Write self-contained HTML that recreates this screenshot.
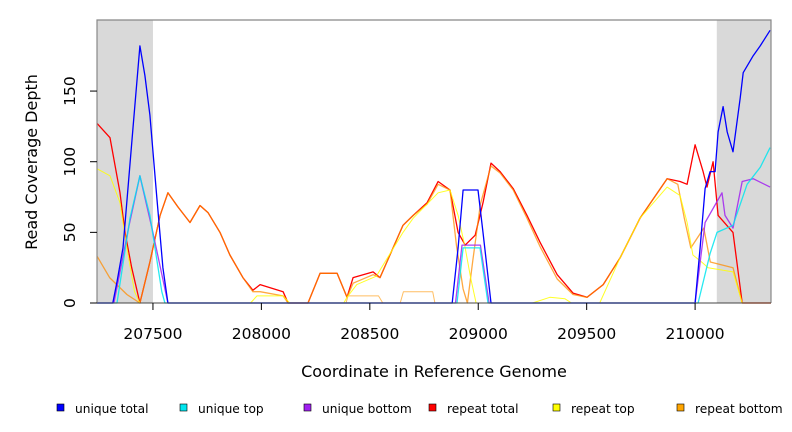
<!DOCTYPE html>
<html><head><meta charset="utf-8"><style>
body{margin:0;background:#fff;}
svg{display:block;font-family:"DejaVu Sans","Liberation Sans",sans-serif;}
</style></head><body>
<svg id="chart" width="792" height="432" viewBox="0 0 792 432" xmlns="http://www.w3.org/2000/svg"></svg>
<script>
const xTicks=[207500,208000,208500,209000,209500,210000];
const yTicks=[0,50,100,150];
const shadedRegions=[[207242,207500],[210100,210350]];
const seriesNames=["unique total","unique top","unique bottom","repeat total","repeat top","repeat bottom"];
const seriesColors=["#0000ff","#00e5ee","#a020f0","#ff0000","#ffff00","#ffa500"];
const uniqueTotal=[[207242,0],[207315,0],[207334,15],[207362,39],[207408,124],[207440,182],[207463,161],[207486,133],[207518,74],[207546,25],[207569,0],[208880,0],[208907,39],[208930,80],[208999,80],[209022,50],[209059,0],[210000,0],[210023,39],[210046,81],[210069,93],[210092,93],[210106,121],[210129,139],[210148,121],[210175,107],[210208,145],[210222,163],[210268,175],[210300,182],[210346,193]];
const uniqueTop=[[207242,0],[207334,0],[207394,60],[207440,90],[207486,62],[207541,8],[207555,0],[208902,0],[208930,39],[209008,39],[209045,0],[210014,0],[210069,35],[210101,50],[210175,55],[210240,84],[210300,96],[210346,110]];
const uniqueBottom=[[207242,0],[207320,0],[207390,55],[207440,90],[207500,50],[207569,0],[208895,0],[208925,41],[209010,41],[209050,0],[210000,0],[210046,57],[210124,78],[210138,62],[210175,53],[210217,86],[210268,88],[210346,82]];
const repeatTotal=[[207243,127],[207302,117],[207348,78],[207371,50],[207402,25],[207440,0],[207486,29],[207533,62],[207569,78],[207615,68],[207671,57],[207717,69],[207754,64],[207809,50],[207855,34],[207915,18],[207961,9],[207994,13],[208100,8],[208123,0],[208215,0],[208271,21],[208349,21],[208395,4],[208423,18],[208515,22],[208547,18],[208653,55],[208700,62],[208764,71],[208815,86],[208870,80],[208907,50],[208940,41],[208986,48],[209022,71],[209059,99],[209101,93],[209161,81],[209225,62],[209285,43],[209364,20],[209437,7],[209502,4],[209576,13],[209654,32],[209746,60],[209871,88],[209931,86],[209963,84],[210000,112],[210037,93],[210055,82],[210083,100],[210106,62],[210175,50],[210217,0],[210350,0]];
const repeatTop=[[207243,95],[207302,90],[207348,71],[207380,39],[207415,8],[207440,0],[207950,0],[207980,5],[208100,5],[208130,0],[208380,0],[208395,4],[208440,13],[208530,19],[208653,50],[208700,60],[208815,78],[208870,80],[208907,62],[208940,39],[208965,18],[208990,0],[209250,0],[209330,4],[209400,3],[209430,0],[209560,0],[209654,32],[209746,60],[209871,82],[209931,76],[209963,57],[209990,34],[210030,29],[210060,25],[210175,22],[210217,0],[210350,0]];
const repeatBottom=[[207243,33],[207300,18],[207380,6],[207440,0],[207486,29],[207533,62],[207569,78],[207615,68],[207671,57],[207717,69],[207754,64],[207809,50],[207855,34],[207915,18],[207961,8],[207994,8],[208100,5],[208123,0],[208215,0],[208271,21],[208349,21],[208395,4],[208423,14],[208515,20],[208547,18],[208653,55],[208700,62],[208764,70],[208815,84],[208870,80],[208900,40],[208930,10],[208950,0],[208975,30],[209010,70],[209059,97],[209101,92],[209161,80],[209225,60],[209285,40],[209364,17],[209437,6],[209502,4],[209576,13],[209654,32],[209746,60],[209871,88],[209920,84],[209950,60],[209980,39],[210040,53],[210070,29],[210175,25],[210217,0],[210350,0]];
const repeatBottomLow=[[208390,0],[208400,5],[208540,5],[208560,0],[208640,0],[208655,8],[208790,8],[208800,0]];
const allSeries=[repeatTotal,repeatBottom,repeatBottomLow,repeatTop,uniqueBottom,uniqueTop,uniqueTotal];
const drawColors=["#ff0000","#ff8c00","#ffb347","#ffff00","#a020f0","#00e5ee","#0000ff"];
const drawOpacity=[1,0.75,0.85,0.85,0.85,0.85,1];
const drawNames=["repeat-total-line","repeat-bottom-line","repeat-bottom-low-line","repeat-top-line","unique-bottom-line","unique-top-line","unique-total-line"];

const L=97,R=771,T=20,B=303;
const X0=207242,X1=210350,Y0=0,Y1=200.3;
function sx(v){return L+(v-X0)/(X1-X0)*(R-L);}
function sy(v){return B-(v-Y0)/(Y1-Y0)*(B-T);}
const svg=document.getElementById('chart');
const NS="http://www.w3.org/2000/svg";
function mk(tag,attrs){const e=document.createElementNS(NS,tag);for(const k in attrs)e.setAttribute(k,attrs[k]);svg.appendChild(e);return e;}

shadedRegions.forEach(r=>{
  const e=mk('rect',{x:sx(r[0]),y:T,width:Math.min(sx(r[1]),R)-sx(r[0]),height:B-T,fill:'#d9d9d9'});
  
  
});
allSeries.forEach((s,i)=>{
  const e=mk('polyline',{points:s.map(p=>sx(p[0]).toFixed(1)+','+sy(p[1]).toFixed(1)).join(' '),fill:'none',stroke:drawColors[i],'stroke-width':(i==2||i==3?1:1.3),'stroke-opacity':drawOpacity[i],'stroke-linejoin':'round'});
  
  
});
let fr=mk('path',{d:`M${L},${B} L${L},${T} L${R},${T} L${R},${B}`,fill:'none',stroke:'#888','stroke-width':1.2});


let xa=mk('line',{x1:L,y1:B,x2:R,y2:B,stroke:'#444','stroke-width':1});


xTicks.forEach(t=>{
  const x=sx(t);
  const tk=mk('line',{x1:x,y1:B,x2:x,y2:B+7,stroke:'#000'});
  
  
  const tx=mk('text',{x:x,y:339,'font-size':15.5,'text-anchor':'middle',fill:'#000'});
  tx.textContent=t;
  
  
});
yTicks.forEach(t=>{
  const y=sy(t);
  const tk=mk('line',{x1:L,y1:y,x2:L-7,y2:y,stroke:'#000'});
  
  
  const tx=mk('text',{x:75,y:y,'font-size':15.5,'text-anchor':'middle',fill:'#000',transform:`rotate(-90 75 ${y})`});
  tx.textContent=t;
  
  
});
let yt=mk('text',{x:37,y:162,'font-size':16,'text-anchor':'middle',transform:'rotate(-90 37 162)'});
yt.textContent='Read Coverage Depth';


let xt=mk('text',{x:434,y:377,'font-size':16,'text-anchor':'middle'});
xt.textContent='Coordinate in Reference Genome';


const legX=[57,180,304,429,553,677];
seriesNames.forEach((n,i)=>{
  const sq=mk('rect',{x:legX[i],y:404,width:7,height:7,fill:seriesColors[i],stroke:'#000','stroke-width':0.6});
  
  
  const tx=mk('text',{x:legX[i]+18,y:413,'font-size':12.2});
  tx.textContent=n;
  
  
});
</script>
</body></html>
